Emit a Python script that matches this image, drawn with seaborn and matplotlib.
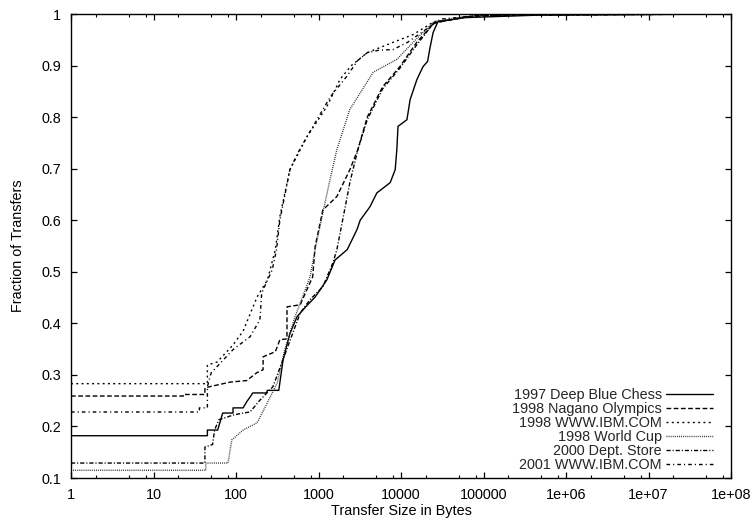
import numpy as np
import pandas as pd
import matplotlib
matplotlib.use("Agg")
import matplotlib.pyplot as plt
import seaborn as sns
from matplotlib.ticker import LogLocator, NullFormatter

# ---------------- data ----------------
series_names = ["1997 Deep Blue Chess", "1998 Nagano Olympics", "1998 WWW.IBM.COM",
                "1998 World Cup", "2000 Dept. Store", "2001 WWW.IBM.COM"]

chess_x = [1, 45, 45, 60, 69, 92, 92, 122, 135, 148, 160, 235, 240, 330, 372, 450, 550, 700,
           910, 1260, 1590, 2230, 2930, 3200, 4200, 5100, 7400, 8500, 8900, 9200, 11800, 12900,
           15600, 18500, 21000, 22500, 24500, 28000, 60000, 500000, 1e8]
chess_y = [.182, .182, .193, .193, .226, .226, .236, .236, .248, .257, .265, .265, .27, .27,
           .329, .38, .413, .432, .451, .484, .523, .543, .582, .600, .626, .653, .673, .698,
           .737, .782, .795, .834, .873, .898, .908, .935, .964, .985, .993, .998, 1.0]

nagano_x = [1, 23, 23, 42, 42, 85, 135, 178, 213, 213, 300, 340, 415, 415, 600, 790, 850, 910,
            1130, 1670, 2400, 3000, 3900, 6000, 9700, 15500, 25000, 60000, 300000, 1e8]
nagano_y = [.259, .259, .262, .262, .275, .286, .289, .304, .31, .335, .345, .368, .37, .432,
            .436, .479, .49, .549, .62, .646, .698, .737, .80, .859, .898, .945, .982, .995,
            .999, 1.0]

ibm98_x = [1, 45, 45, 59, 92, 122, 180, 240, 300, 340, 450, 725, 1260, 1820, 2500, 3900,
           8000, 14000, 25000, 100000, 1e8]
ibm98_y = [.283, .283, .319, .325, .358, .385, .451, .484, .543, .607, .698, .762, .82, .873,
           .90, .925, .945, .96, .985, .998, 1.0]

wc_x = [1, 43, 43, 80, 89, 122, 180, 240, 315, 390, 520, 790, 910, 1130, 1380, 1670, 2400,
        4600, 8900, 14000, 25000, 80000, 1e8]
wc_y = [.115, .115, .129, .129, .174, .193, .207, .246, .284, .349, .413, .49, .543, .615,
        .679, .737, .815, .887, .912, .945, .985, .997, 1.0]

dept_x = [1, 42, 42, 52, 55, 62, 92, 122, 148, 195, 280, 370, 490, 600, 790, 1130, 1500,
          1670, 2000, 2400, 3000, 3900, 6000, 9700, 15500, 25000, 80000, 1e8]
dept_y = [.129, .129, .16, .165, .193, .213, .222, .226, .228, .251, .277, .329, .382, .42,
          .446, .471, .518, .543, .607, .673, .737, .795, .855, .895, .94, .983, .997, 1.0]

ibm01_x = [1, 36, 36, 45, 45, 50, 92, 148, 195, 205, 275, 310, 340, 450, 560, 725, 1000,
           1400, 2200, 3000, 3900, 5500, 8000, 12000, 20000, 30000, 100000, 1e8]
ibm01_y = [.228, .228, .236, .236, .277, .304, .349, .374, .407, .459, .504, .543, .60, .698,
           .73, .762, .80, .84, .879, .91, .925, .93, .931, .945, .97, .99, .998, 1.0]

x_tick_labels = ["1", "10", "100", "1000", "10000", "100000", "1e+06", "1e+07", "1e+08"]
y_tick_labels = ["0.1", "0.2", "0.3", "0.4", "0.5", "0.6", "0.7", "0.8", "0.9", "1"]

# ---------------- build long table ----------------
all_x = [chess_x, nagano_x, ibm98_x, wc_x, dept_x, ibm01_x]
all_y = [chess_y, nagano_y, ibm98_y, wc_y, dept_y, ibm01_y]
frames = []
for name, xs, ys in zip(series_names, all_x, all_y):
    frames.append(pd.DataFrame({"series": name, "size": xs, "fraction": ys}))
df = pd.concat(frames, ignore_index=True)

# ---------------- styling ----------------
sns.set_theme(style="ticks")
plt.rcParams["font.family"] = ["Liberation Sans", "DejaVu Sans"]
plt.rcParams["font.size"] = 10.4
plt.rcParams["lines.linewidth"] = 1.0

palette = {n: "black" for n in series_names}
palette["1998 World Cup"] = "#333333"
dashes = {
    "1997 Deep Blue Chess": "",
    "1998 Nagano Olympics": (3.4, 1.8),
    "1998 WWW.IBM.COM": (1.4, 2.4),
    "1998 World Cup": (0.7, 0.8),
    "2000 Dept. Store": (3.0, 1.4, 0.8, 1.4),
    "2001 WWW.IBM.COM": (2.6, 2.2, 0.8, 2.2),
}

fig = plt.figure(figsize=(7.51, 5.23), dpi=100)
ax = fig.add_axes([71 / 751, 1 - 478 / 523, 660 / 751, 464 / 523])

sns.lineplot(data=df, x="size", y="fraction", hue="series", style="series",
             hue_order=series_names, style_order=series_names,
             palette=palette, dashes=dashes, estimator=None, sort=False,
             linewidth=1.0, ax=ax, legend=True)

ax.set_xscale("log")
ax.set_xlim(1, 1e8)
ax.set_ylim(0.1, 1.0)

ax.set_xticks([float(t) for t in x_tick_labels], x_tick_labels)
ax.xaxis.set_minor_locator(LogLocator(base=10, subs=[2, 5, 8], numticks=20))
ax.xaxis.set_minor_formatter(NullFormatter())
ax.set_yticks([float(t) for t in y_tick_labels], y_tick_labels)

ax.tick_params(which="both", direction="in", top=True, right=True, color="black",
               labelsize=10.4, labelcolor="black")
ax.tick_params(which="major", length=4, width=0.9)
ax.tick_params(axis="x", which="major", pad=7)
ax.tick_params(axis="y", which="major", pad=7)
ax.tick_params(which="minor", length=2.2, width=0.8)
for sp in ax.spines.values():
    sp.set_visible(True)
    sp.set_color("black")
    sp.set_linewidth(1.0)

ax.set_xlabel("Transfer Size in Bytes", fontsize=10.4, color="black", labelpad=2)
ax.set_ylabel("Fraction of Transfers", fontsize=10.4, color="black", labelpad=12)

handles, labels = ax.get_legend_handles_labels()
ax.legend(handles, labels, loc="lower right", bbox_to_anchor=(0.973, 0.012),
          frameon=False, markerfirst=False, handlelength=3.3, handletextpad=0.25,
          labelspacing=0.0, borderpad=0, borderaxespad=0, fontsize=10.4)

fig.savefig("out.png", dpi=100)
